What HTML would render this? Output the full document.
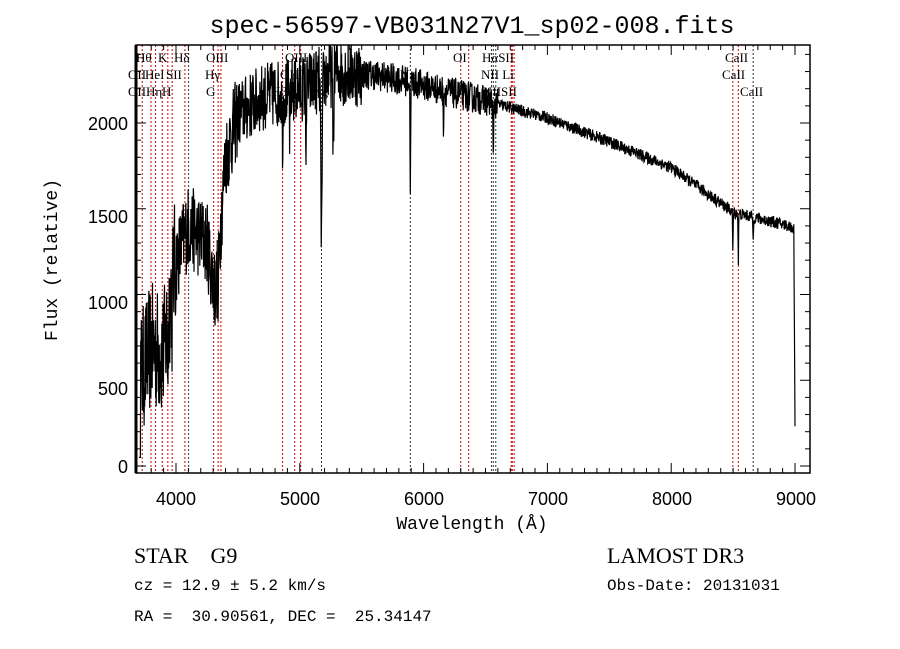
<!DOCTYPE html>
<html><head><meta charset="utf-8"><style>
html,body{margin:0;padding:0;background:#fff;width:900px;height:649px;overflow:hidden}
svg text{font-family:"Liberation Mono",monospace;fill:#000}
svg .s text{font-family:"Liberation Serif",serif;font-size:13px}
svg .a text{font-family:"Liberation Sans",sans-serif;font-size:18px}
</style></head><body>
<svg id="g" width="900" height="649" xmlns="http://www.w3.org/2000/svg">
<defs><clipPath id="c"><rect x="136" y="45" width="674" height="428"/></clipPath></defs>
<g id="lines"></g>
<path id="sp" d="" fill="none" stroke="#000" stroke-width="1.2" clip-path="url(#c)"/>
<rect x="136" y="45" width="674" height="428" fill="none" stroke="#000" stroke-width="1.5"/>
<line x1="136" y1="45" x2="136" y2="473" stroke="#000" stroke-width="3"/>
<g id="ticks" stroke="#000" stroke-width="1"></g>
<text x="472" y="33" font-size="25" text-anchor="middle">spec-56597-VB031N27V1_sp02-008.fits</text>
<g class="a" text-anchor="end">
<text x="128" y="473">0</text><text x="128" y="395">500</text><text x="128" y="309">1000</text><text x="128" y="223">1500</text><text x="128" y="130">2000</text>
</g>
<g class="a" text-anchor="middle">
<text x="176" y="505">4000</text><text x="300" y="505">5000</text><text x="424" y="505">6000</text><text x="548" y="505">7000</text><text x="672" y="505">8000</text><text x="796" y="505">9000</text>
</g>
<text x="472" y="529" font-size="18" text-anchor="middle">Wavelength (Å)</text>
<text transform="translate(57,260) rotate(-90)" font-size="18" text-anchor="middle">Flux (relative)</text>
<text x="134" y="563" font-size="22" style="font-family:'Liberation Serif',serif" xml:space="preserve">STAR    G9</text>
<text x="607" y="563" font-size="22" style="font-family:'Liberation Serif',serif">LAMOST DR3</text>
<text x="134" y="590" font-size="16">cz = 12.9 ± 5.2 km/s</text>
<text x="607" y="590" font-size="16">Obs-Date: 20131031</text>
<text x="134" y="621" font-size="16" xml:space="preserve">RA =  30.90561, DEC =  25.34147</text>
<g class="s">
<text x="136" y="62">Hθ</text><text x="158" y="62">K</text><text x="174" y="62">Hδ</text><text x="206" y="62">OIII</text><text x="285" y="62">OIII</text><text x="453" y="62">OI</text><text x="482" y="62">HαSII</text><text x="725" y="62">CaII</text>
<text x="128" y="79">OII</text><text x="145" y="79">HeI</text><text x="166" y="79">SII</text><text x="205" y="79">Hγ</text><text x="280" y="79">OIII</text><text x="400" y="79">Na</text><text x="481" y="79">NII Li</text><text x="722" y="79">CaII</text>
<text x="128" y="96">OIIHη</text><text x="162" y="96">H</text><text x="206" y="96">G</text><text x="271" y="96">Hβ</text><text x="310" y="96">Mg</text><text x="483" y="96">NIISII</text><text x="740" y="96">CaII</text>
</g>
</svg>
<script>
var X=function(l){return 176+(l-4000)*0.1238},Y=function(f){return 466-f*0.1715};
var ns="http://www.w3.org/2000/svg";
function el(p,t,a){var e=document.createElementNS(ns,t);for(var k in a)e.setAttribute(k,a[k]);p.appendChild(e);return e}
var L=document.getElementById('lines');
[[3727,'r'],[3798,'r'],[3835,'r'],[3889,'r'],[3934,'r'],[3969,'r'],[4072,'r'],[4102,'k'],[4304,'r'],[4340,'r'],[4363,'r'],[4861,'r'],[4959,'r'],[5007,'r'],[5175,'k'],[5893,'k'],[6300,'r'],[6364,'r'],[6548,'k'],[6563,'k'],[6583,'k'],[6708,'r'],[6716,'r'],[6731,'r'],[8498,'r'],[8542,'r'],[8662,'k']].forEach(function(a){var x=X(a[0]);el(L,'line',{x1:x,x2:x,y1:45,y2:473,stroke:a[1]=='r'?'#c00':'#333','stroke-width':1,'stroke-dasharray':'2,2'})});
var T=document.getElementById('ticks');
for(var l=3800;l<=9000;l+=100){var x=X(l),h=l%1000==0?10:5;el(T,'line',{x1:x,x2:x,y1:473,y2:473-h});el(T,'line',{x1:x,x2:x,y1:45,y2:45+h})}
for(var f=0;f<=2400;f+=100){var y=Y(f),h=f%500==0?10:5;el(T,'line',{x1:136,x2:136+h,y1:y,y2:y});el(T,'line',{x1:810,x2:810-h,y1:y,y2:y})}
var K=[[3700,500],[3800,700],[3900,650],[3980,1150],[4100,1400],[4250,1300],[4320,1000],[4400,1800],[4500,2050],[4700,2150],[5000,2200],[5300,2300],[5600,2280],[5900,2240],[6200,2180],[6500,2130],[7000,2030],[7500,1890],[8000,1740],[8500,1480],[8950,1400],[8990,1380],[9000,250]];
function env(l){for(var i=0;i<K.length-1;i++)if(l<=K[i+1][0]){var t=(l-K[i][0])/(K[i+1][0]-K[i][0]);return K[i][1]+t*(K[i+1][1]-K[i][1])}return 250}
var dips=[[5175,900,8],[5893,600,4],[6563,350,4],[8498,250,3],[8542,280,3],[8662,150,3],[4340,300,5],[3969,200,5],[3934,250,5],[4861,250,6],[5270,400,6],[5050,300,5],[6160,200,4],[4920,300,5]];
var s=12345;function r(){s=(s*16807)%2147483647;return s/2147483647-0.5}
var d='';
for(var l=3700;l<=9000;l+=2.5){var a=l<4000?750:l<4500?500:l<5500?400:l<6600?180:70;var f=env(l)+r()*a;
dips.forEach(function(q){var z=(l-q[0])/q[2];f-=q[1]*Math.exp(-z*z)});if(l<3715)f=50;
d+=(d?'L':'M')+X(l).toFixed(1)+' '+Y(f).toFixed(1)}
document.getElementById('sp').setAttribute('d',d);
</script>
</body></html>
